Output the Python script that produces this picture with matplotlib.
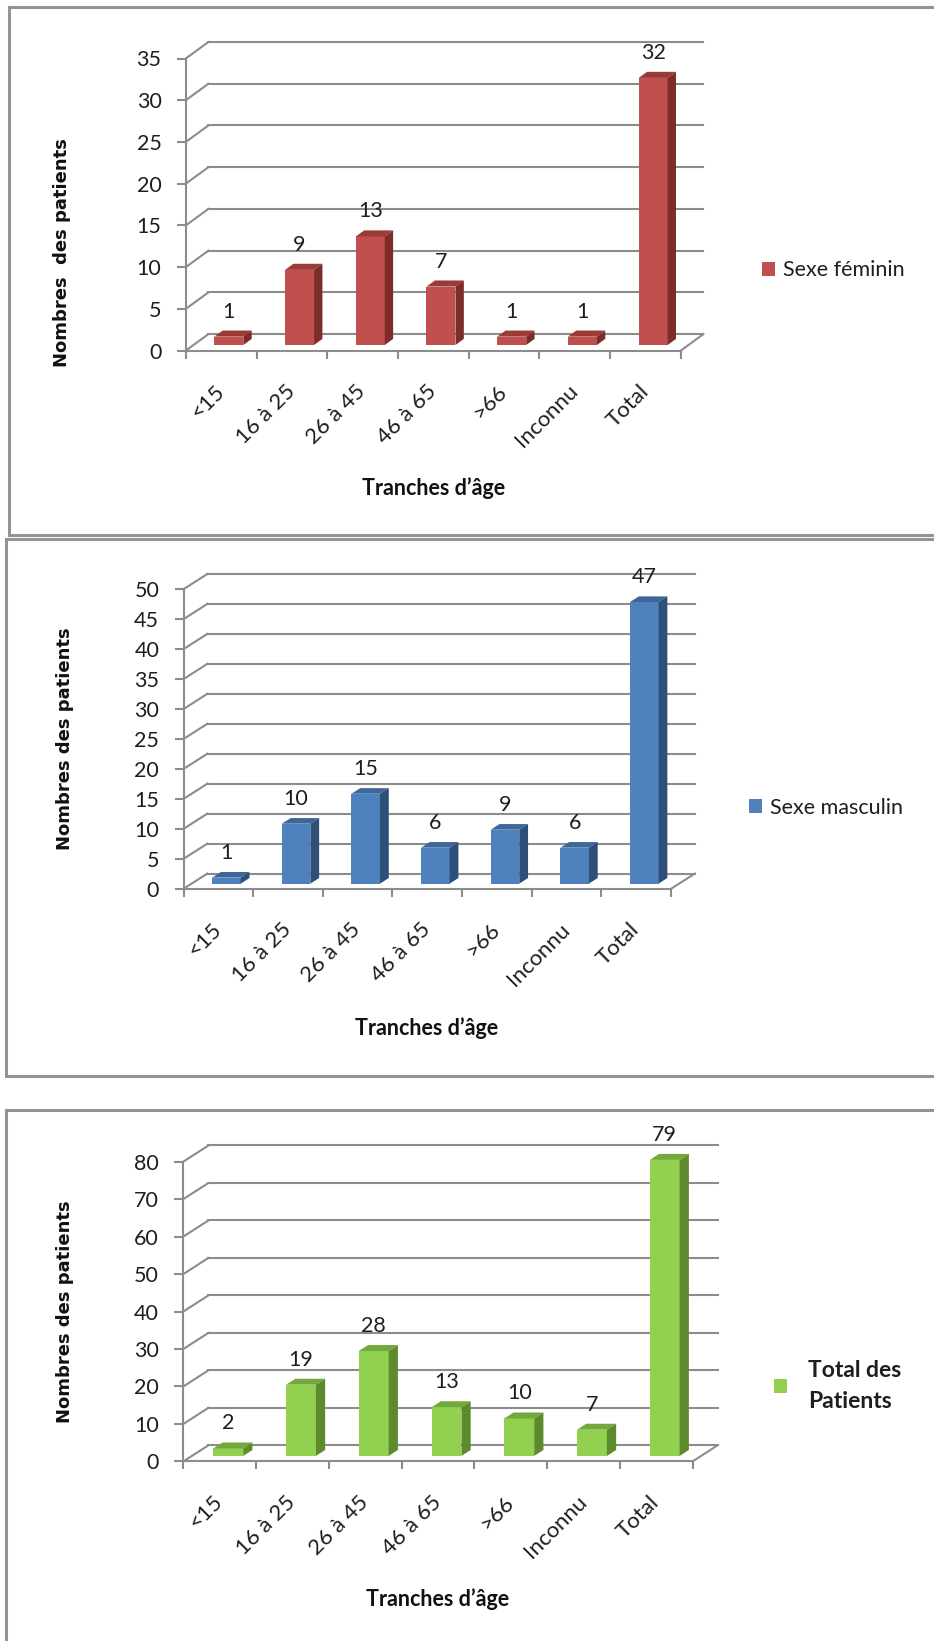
import matplotlib
matplotlib.use('Agg')
import matplotlib.pyplot as plt
from matplotlib.patches import Polygon
from matplotlib.lines import Line2D
import numpy as np

# ---------------- data ----------------
categories = ['<15', '16 à 25', '26 à 45', '46 à 65', '>66', 'Inconnu', 'Total']
feminin = [1, 9, 13, 7, 1, 1, 32]
masculin = [1, 10, 15, 6, 9, 6, 47]
total_patients = [2, 19, 28, 13, 10, 7, 79]
series_labels = ['Sexe féminin', 'Sexe masculin', 'Total des\nPatients']
y_max = [35, 50, 80]
y_step = [5, 5, 10]
y_label_texts = ['Nombres  des patients', 'Nombres des patients', 'Nombres des patients']
x_label_text = 'Tranches d’âge'

# ---------------- style ----------------
W, H = 934, 1641
fig = plt.figure(figsize=(W / 100, H / 100), dpi=100)
plt.rcParams['font.family'] = ['Lato', 'DejaVu Sans']

GRID = '#8c8c8c'
TXT = '#1e1e1e'
faces = [('#C0504D', '#9B3B38', '#7E2C2A'),
         ('#4F81BD', '#3D6699', '#2E4F78'),
         ('#92D050', '#72A83C', '#5E8A2E')]

# pixel geometry of each panel: x of cat 0, x of cat 7, y px of 0, y px of max, depth dx, dy
geom = [(185.8, 680.8, 350.6, 58.5, 22.6, 16.5),
        (183.5, 671.0, 888.8, 589.2, 23.8, 15.2),
        (183.4, 692.6, 1461.4, 1161.6, 25.0, 16.1)]
ylabel_pos = [(62, 253), (65.5, 739), (65.5, 1312)]
xlabel_pos = [(434, 488), (427, 1028), (438, 1599)]
legend_pos = [(762, 270.5), (749, 808), (774, 1386)]

series = [feminin, masculin, total_patients]

ZF, DZ, BW = 0.34, 0.37, 0.41   # bar front depth, bar depth, bar width (category units)

for k in range(3):
    x0, x1, yb, yt, dxp, dyp, = geom[k]
    ax = fig.add_axes([x0 / W, 1 - yb / H, (x1 - x0) / W, (yb - yt) / H])
    n = len(categories)
    ymax = y_max[k]
    ax.set_xlim(0, n)
    ax.set_ylim(0, ymax)
    cat_px = (x1 - x0) / n
    unit_px = (yb - yt) / ymax
    DX = dxp / cat_px
    DY = dyp / unit_px
    ax.patch.set_visible(False)
    for s in ['top', 'right']:
        ax.spines[s].set_visible(False)
    for s in ['left', 'bottom']:
        ax.spines[s].set_color(GRID)
        ax.spines[s].set_linewidth(1.5)
        ax.spines[s].set_zorder(2)

    yt_vals = np.arange(0, ymax + 1, y_step[k])
    # back wall gridlines + left wall diagonals
    for v in yt_vals:
        ax.add_line(Line2D([DX, n + DX], [v + DY, v + DY], color=GRID, lw=1.5,
                           clip_on=False, zorder=1))
        ax.add_line(Line2D([0, DX], [v, v + DY], color=GRID, lw=1.5,
                           clip_on=False, zorder=1))
    # floor right edge
    ax.add_line(Line2D([n, n + DX], [0, DY], color=GRID, lw=1.5, clip_on=False, zorder=1))

    vals = series[k]
    centers = np.arange(n) + 0.5
    fx = centers + ZF * DX
    base = ZF * DY
    front, topc, sidec = faces[k]
    bars = ax.bar(fx, vals, width=BW, bottom=base, color=front, zorder=4,
                  clip_on=False, label=series_labels[k], linewidth=0)
    ddx, ddy = DZ * DX, DZ * DY
    for xc, v in zip(fx, vals):
        xl, xr = xc - BW / 2, xc + BW / 2
        top = base + v
        ax.add_patch(Polygon([(xl, top), (xr, top), (xr + ddx, top + ddy), (xl + ddx, top + ddy)],
                             closed=True, facecolor=topc, edgecolor='none', zorder=5, clip_on=False))
        ax.add_patch(Polygon([(xr, base), (xr, top), (xr + ddx, top + ddy), (xr + ddx, base + ddy)],
                             closed=True, facecolor=sidec, edgecolor='none', zorder=5, clip_on=False))
        ax.annotate(str(v), xy=(xc, top), xytext=(0, 18), textcoords='offset points',
                    ha='center', va='center', fontsize=15.5, color=TXT, zorder=6,
                    annotation_clip=False)

    # ticks
    ax.set_yticks(yt_vals)
    ax.tick_params(axis='y', direction='out', length=6.5, width=1.5, color=GRID,
                   labelsize=15.5, labelcolor=TXT, pad=11)
    ax.set_xticks(np.arange(n + 1))
    ax.set_xticklabels([''] * (n + 1))
    ax.tick_params(axis='x', which='major', direction='out', length=5.5, width=1.5, color=GRID)
    ax.set_xticks(centers, categories, minor=True)
    ax.tick_params(axis='x', which='minor', length=0, pad=27, labelsize=16, labelcolor=TXT)
    for lab in ax.get_xticklabels(minor=True):
        lab.set_rotation(45)
        lab.set_ha('right')
        lab.set_va('center')
        lab.set_rotation_mode('anchor')

    # axis titles
    ylx, yly = ylabel_pos[k]
    fig.text(ylx / W, 1 - yly / H, y_label_texts[k], rotation=90, ha='center', va='center',
             family='DejaVu Sans', fontweight='bold', fontsize=13, color='#111111')
    xlx, xly = xlabel_pos[k]
    fig.text(xlx / W, 1 - xly / H, x_label_text, ha='center', va='center',
             fontweight='bold', fontsize=15.5, color='#111111')

    # legend
    lx, ly = legend_pos[k]
    if k < 2:
        leg = ax.legend(handles=[bars], loc='center left', bbox_to_anchor=(lx / W, 1 - ly / H),
                        bbox_transform=fig.transFigure, frameon=False, borderpad=0,
                        borderaxespad=0, handlelength=0.62, handleheight=0.62,
                        handletextpad=0.35, prop={'size': 15.5})
    else:
        leg = ax.legend(handles=[bars], loc='center left', bbox_to_anchor=(lx / W, 1 - ly / H),
                        bbox_transform=fig.transFigure, frameon=False, borderpad=0,
                        borderaxespad=0, handlelength=0.55, handleheight=0.55,
                        handletextpad=0.95, prop={'size': 16.5, 'weight': 'bold'})
        for t in leg.get_texts():
            t.set_linespacing(1.6)
    for t in leg.get_texts():
        t.set_color(TXT)

# panel frames
FR = '#939393'
def fline(xs, ys):
    fig.add_artist(Line2D([x / W for x in xs], [1 - y / H for y in ys], color=FR, lw=2.2))

fline([9, 9], [7, 534.5]); fline([9, 934], [7, 7]); fline([9, 934], [534.5, 534.5])
fline([6, 6], [539, 1076]); fline([6, 934], [539, 539]); fline([6, 934], [1076, 1076])
fline([6, 6], [1110, 1641]); fline([6, 934], [1110, 1110])

fig.savefig('out.png', dpi=100, facecolor='white')
